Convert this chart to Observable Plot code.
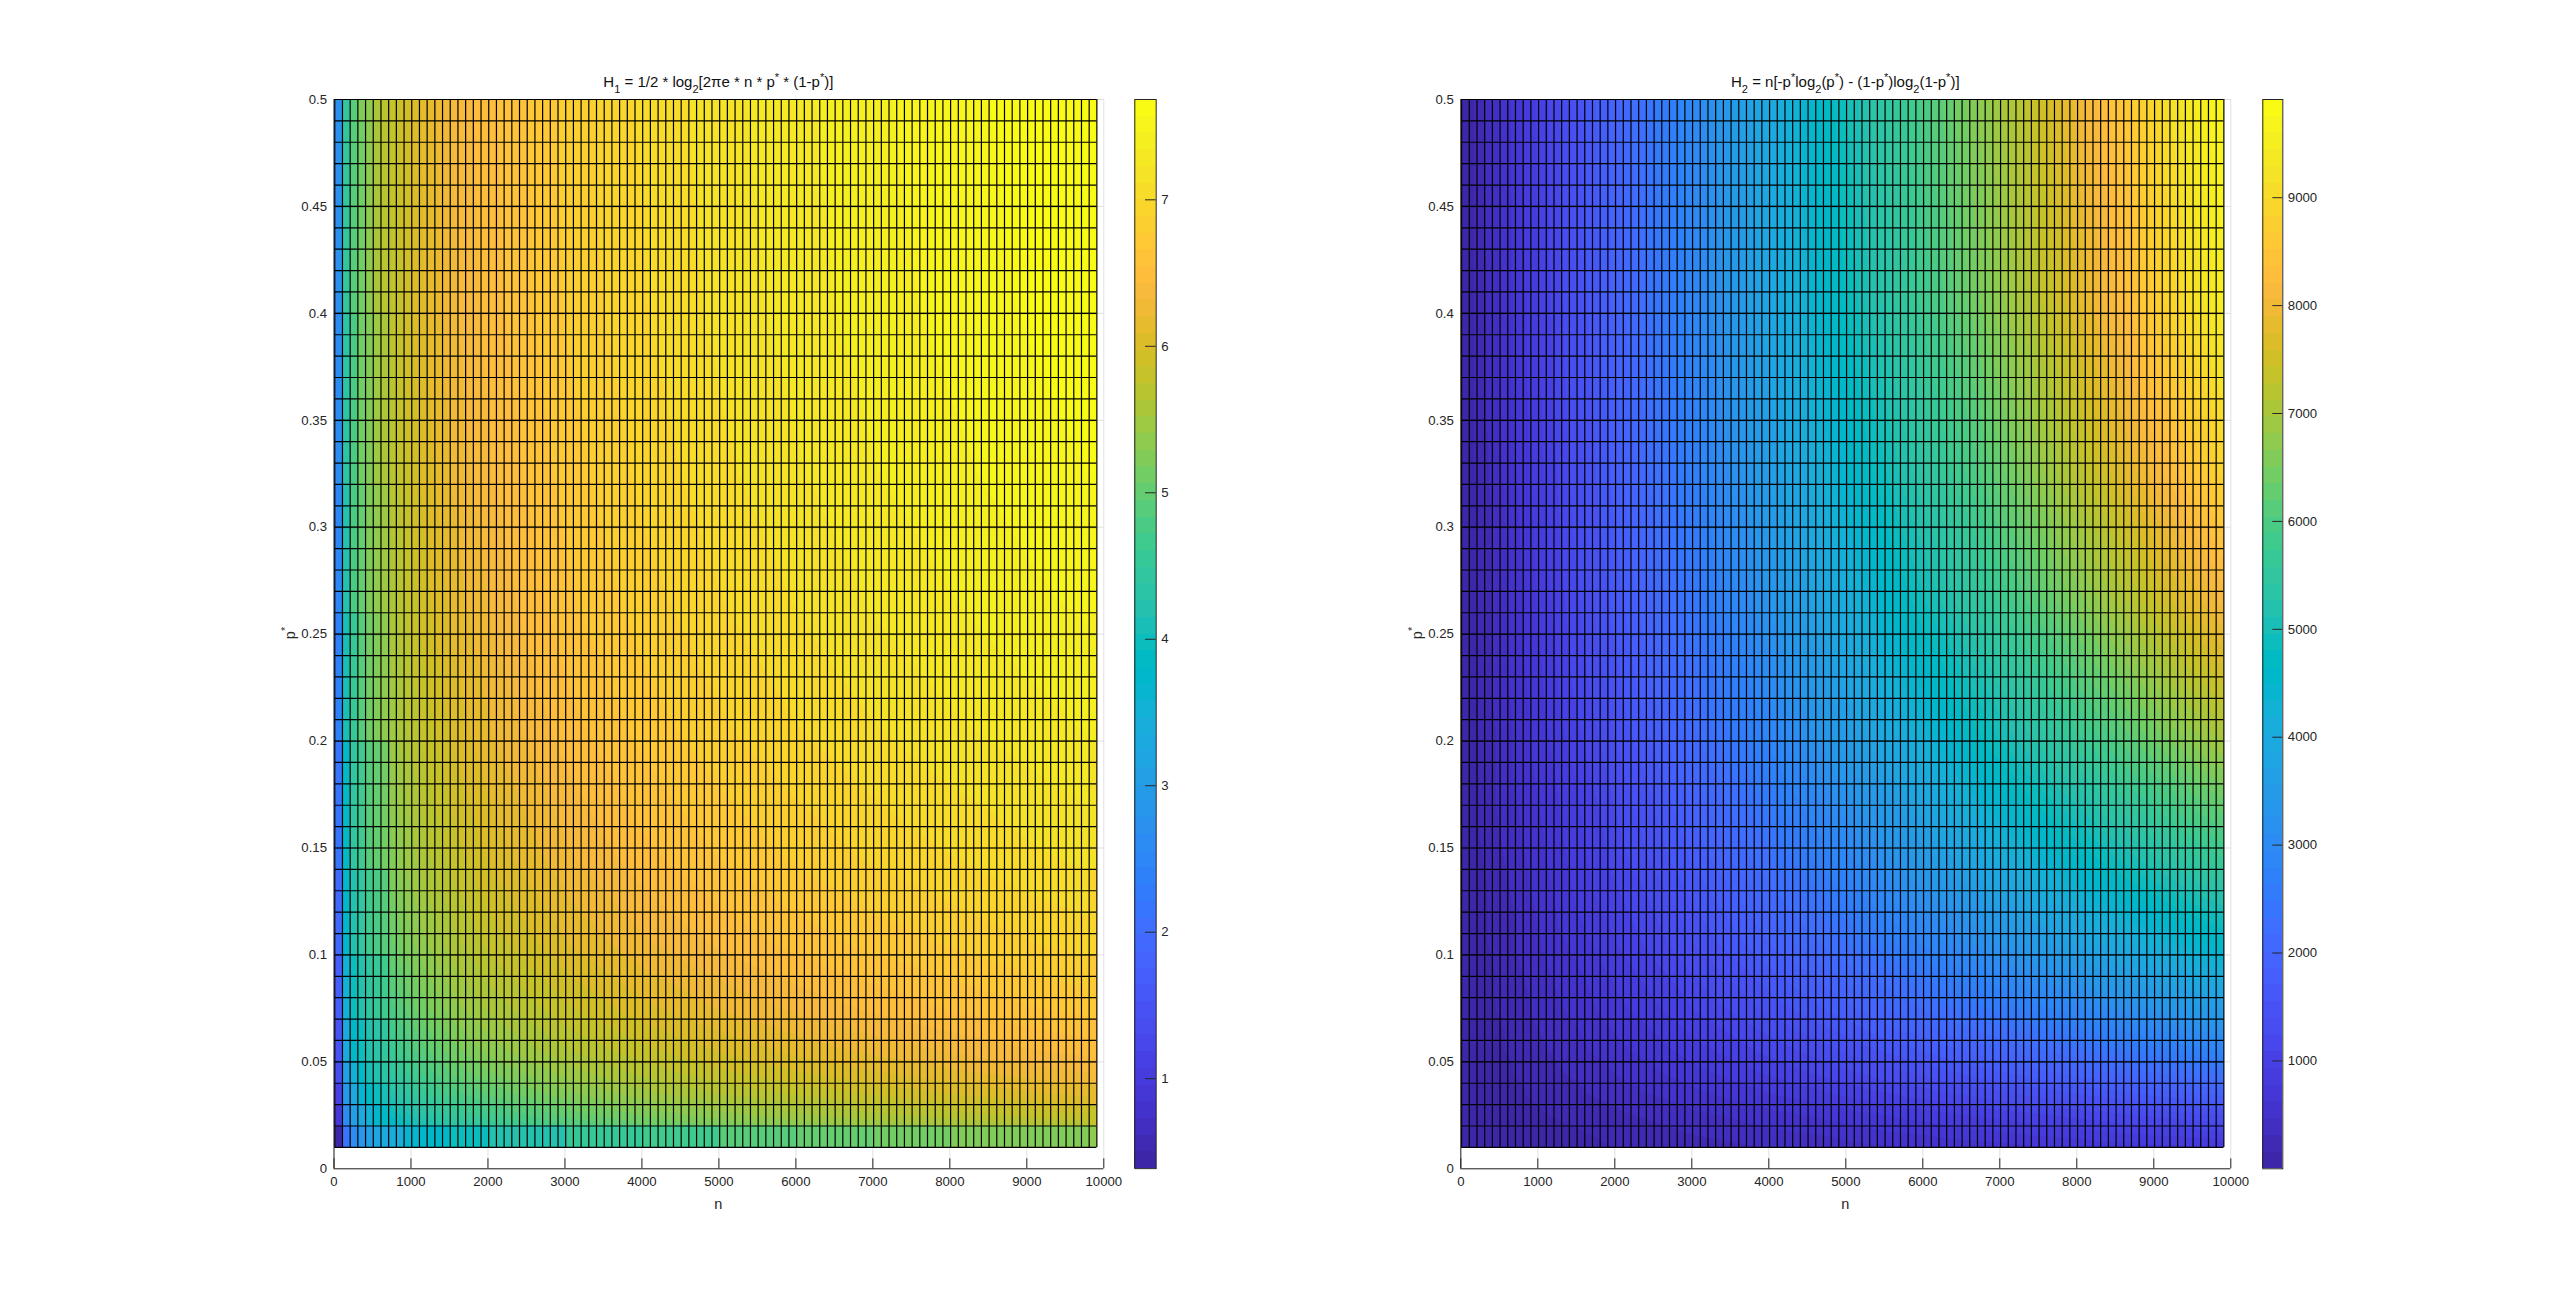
<!DOCTYPE html>
<html>
<head>
<meta charset="utf-8">
<script src="https://cdn.jsdelivr.net/npm/d3@7"></script>
<script src="https://cdn.jsdelivr.net/npm/@observablehq/plot@0.6"></script>
<style>
html,body{margin:0;padding:0;background:#fff;}
#page{position:relative;width:2560px;height:1314px;overflow:hidden;font-family:"Liberation Sans",Arial,sans-serif;color:#262626;}
.t{position:absolute;text-align:center;white-space:nowrap;line-height:16px;}
.title{font-size:15px;color:#111;}
.lab{font-size:14.5px;}
.t sub,.t sup{font-size:11px;line-height:0;}
.t sub{vertical-align:-6px;}
.t sup{vertical-align:6px;}
</style>
</head>
<body>
<div id="page"></div>
<script>
const xTicks=[0,1000,2000,3000,4000,5000,6000,7000,8000,9000,10000];
const yTicks=[0,0.05,0.1,0.15,0.2,0.25,0.3,0.35,0.4,0.45,0.5];
const yHeavyRows=[0.05,0.1,0.15,0.2,0.25,0.3,0.35,0.4,0.45];
const nEdges=[10,110,210,310,410,510,610,710,810,910,1010,1110,1210,1310,1410,1510,1610,1710,1810,1910,2010,2110,2210,2310,2410,2510,2610,2710,2810,2910,3010,3110,3210,3310,3410,3510,3610,3710,3810,3910,4010,4110,4210,4310,4410,4510,4610,4710,4810,4910,5010,5110,5210,5310,5410,5510,5610,5710,5810,5910,6010,6110,6210,6310,6410,6510,6610,6710,6810,6910,7010,7110,7210,7310,7410,7510,7610,7710,7810,7910,8010,8110,8210,8310,8410,8510,8610,8710,8810,8910,9010,9110,9210,9310,9410,9510,9610,9710,9810,9910];
const pEdges=[0.01,0.02,0.03,0.04,0.05,0.06,0.07,0.08,0.09,0.1,0.11,0.12,0.13,0.14,0.15,0.16,0.17,0.18,0.19,0.2,0.21,0.22,0.23,0.24,0.25,0.26,0.27,0.28,0.29,0.3,0.31,0.32,0.33,0.34,0.35,0.36,0.37,0.38,0.39,0.4,0.41,0.42,0.43,0.44,0.45,0.46,0.47,0.48,0.49,0.5];

const pSamples=[0.01,0.02,0.03,0.04,0.05,0.07,0.1,0.14,0.2,0.26,0.32,0.4,0.49];
const h1Columns=[10,110,210,310,410,510,610,710,910,1110,1510,2010,3010,4010,5010,6010,7010,8010,9010,9810];
const h1Values=[
[0.38,2.11,2.58,2.86,3.06,3.22,3.35,3.45,3.63,3.78,4.00,4.20,4.50,4.70,4.86,4.99,5.11,5.20,5.29,5.35],
[0.87,2.60,3.07,3.35,3.55,3.71,3.84,3.95,4.13,4.27,4.49,4.70,4.99,5.20,5.36,5.49,5.60,5.69,5.78,5.84],
[1.16,2.89,3.35,3.63,3.84,3.99,4.12,4.23,4.41,4.55,4.78,4.98,5.27,5.48,5.64,5.77,5.88,5.98,6.07,6.13],
[1.36,3.09,3.55,3.83,4.04,4.19,4.32,4.43,4.61,4.75,4.98,5.18,5.47,5.68,5.84,5.97,6.08,6.18,6.26,6.33],
[1.51,3.24,3.71,3.99,4.19,4.35,4.48,4.59,4.76,4.91,5.13,5.34,5.63,5.83,5.99,6.13,6.24,6.33,6.42,6.48],
[1.74,3.47,3.93,4.21,4.42,4.57,4.70,4.81,4.99,5.13,5.36,5.56,5.85,6.06,6.22,6.35,6.46,6.56,6.65,6.71],
[1.97,3.70,4.17,4.45,4.65,4.81,4.94,5.05,5.23,5.37,5.59,5.80,6.09,6.30,6.46,6.59,6.70,6.79,6.88,6.94],
[2.18,3.91,4.38,4.66,4.86,5.02,5.15,5.26,5.44,5.58,5.80,6.01,6.30,6.51,6.67,6.80,6.91,7.00,7.09,7.15],
[2.39,4.12,4.58,4.86,5.07,5.22,5.35,5.46,5.64,5.78,6.01,6.21,6.50,6.71,6.87,7.00,7.11,7.21,7.29,7.36],
[2.52,4.25,4.72,5.00,5.20,5.36,5.49,5.59,5.77,5.92,6.14,6.34,6.64,6.84,7.00,7.13,7.25,7.34,7.43,7.49],
[2.61,4.34,4.80,5.09,5.29,5.44,5.57,5.68,5.86,6.01,6.23,6.43,6.72,6.93,7.09,7.22,7.34,7.43,7.52,7.58],
[2.68,4.41,4.88,5.16,5.36,5.52,5.65,5.75,5.93,6.08,6.30,6.50,6.80,7.00,7.16,7.29,7.41,7.50,7.59,7.65],
[2.71,4.44,4.90,5.19,5.39,5.54,5.67,5.78,5.96,6.11,6.33,6.53,6.82,7.03,7.19,7.32,7.44,7.53,7.62,7.68]
];
const h2Columns=[10,1010,2010,3010,4010,5010,6010,7010,8010,9010,9810];
const h2Values=[
[0.81,82,162,243,324,405,486,566,647,728,793],
[1.4,143,284,426,567,708,850,991,1133,1274,1387],
[1.9,196,391,585,780,974,1168,1363,1557,1752,1907],
[2.4,245,487,729,972,1214,1456,1698,1941,2183,2377],
[2.9,289,576,862,1148,1435,1721,2008,2294,2580,2810],
[3.7,370,735,1101,1467,1833,2199,2565,2931,3297,3590],
[4.7,474,943,1412,1881,2350,2819,3288,3757,4226,4601],
[5.8,590,1174,1758,2343,2927,3511,4095,4679,5264,5731],
[7.2,729,1451,2173,2895,3617,4339,5060,5782,6504,7082],
[8.3,835,1662,2488,3315,4142,4968,5795,6622,7449,8110],
[9.0,913,1818,2722,3627,4531,5435,6340,7244,8149,8872],
[9.7,981,1952,2923,3894,4865,5836,6807,7778,8749,9526],
[10,1010,2009,3009,4009,5009,6008,7008,8008,9007,9807]
];
const h1Domain=[0.386,7.685];
const h2Domain=[0.81,9910];
const h1BarTicks=[1,2,3,4,5,6,7];
const h2BarTicks=[1000,2000,3000,4000,5000,6000,7000,8000,9000];
const parula=[
[.2422,.1504,.6603],[.2504,.1650,.7076],[.2578,.1818,.7511],[.2647,.1978,.7952],[.2706,.2147,.8364],[.2751,.2342,.8710],[.2783,.2559,.8991],[.2803,.2782,.9221],[.2813,.3006,.9414],[.2810,.3228,.9579],[.2795,.3447,.9717],[.2760,.3667,.9829],[.2699,.3892,.9906],[.2602,.4123,.9952],[.2440,.4358,.9988],[.2206,.4603,.9973],[.1963,.4847,.9892],[.1834,.5074,.9798],[.1786,.5289,.9682],[.1764,.5499,.9520],[.1687,.5703,.9359],[.1540,.5902,.9218],[.1460,.6091,.9079],[.1380,.6276,.8973],[.1248,.6459,.8883],[.1113,.6635,.8763],[.0952,.6798,.8598],[.0689,.6948,.8394],[.0297,.7082,.8163],[.0036,.7203,.7917],[.0067,.7312,.7660],[.0433,.7411,.7394],[.0964,.7500,.7120],[.1408,.7584,.6842],[.1717,.7670,.6554],[.1938,.7758,.6251],[.2161,.7843,.5923],[.2470,.7918,.5567],[.2906,.7973,.5188],[.3406,.8008,.4789],[.3909,.8029,.4354],[.4456,.8024,.3909],[.5044,.7993,.3480],[.5616,.7942,.3045],[.6174,.7876,.2612],[.6720,.7793,.2227],[.7242,.7698,.1910],[.7738,.7598,.1646],[.8203,.7498,.1535],[.8634,.7406,.1596],[.9035,.7330,.1774],[.9393,.7288,.2100],[.9728,.7298,.2394],[.9956,.7434,.2371],[.9970,.7659,.2199],[.9952,.7893,.2028],[.9892,.8136,.1885],[.9786,.8386,.1766],[.9676,.8639,.1643],[.9610,.8890,.1537],[.9597,.9135,.1423],[.9628,.9373,.1265],[.9691,.9606,.1064],[.9769,.9839,.0805]
].map(c=>d3.rgb(c[0]*255,c[1]*255,c[2]*255).formatHex());

const INK="#262626";
const page=document.getElementById("page");
const colorScale=domain=>({type:"linear",domain,clamp:true,
  interpolate:t=>parula[Math.max(0,Math.min(63,Math.floor(t*64)))]});

function blocks(columns,values){
  const out=[];
  const lastN=columns[columns.length-1], lastP=pSamples[pSamples.length-1];
  pSamples.forEach((p,j)=>columns.forEach((n,i)=>out.push({
    n,p,value:values[j][i],
    n2:i+1<columns.length?columns[i+1]:n+100,
    p2:j+1<pSamples.length?pSamples[j+1]:p+0.01,
    // raster anchors: cell centres, except the outermost samples, which sit on the grid's edge
    ax:i===0?n:(n===lastN?n+100:n+50),
    ay:j===0?p:(p===lastP?p+0.01:p+0.005)
  })));
  return out;
}

function mainPlot({left,x0,x1,columns,values,domain,flatSteps}){
  const data=blocks(columns,values);
  const w=x1-left+40;
  // narrow single-cell columns, and the bottom row, keep the reference's flat steps
  const flat=flatSteps?data.filter(d=>d.n2-d.n===100||d.p===0.01):[];
  const plot=Plot.plot({
    width:w,height:1314,
    marginLeft:x0-left,marginRight:w-(x1-left),marginTop:99,marginBottom:1314-1168.3,
    x:{domain:[0,10000]},y:{domain:[0,0.5]},
    color:colorScale(domain),
    style:{position:"absolute",left:left+"px",top:"0",background:"transparent",fontFamily:"Liberation Sans",fontSize:"13.2px",overflow:"visible"},
    marks:[
      Plot.ruleX(xTicks,{stroke:INK,strokeOpacity:0.15}),
      Plot.ruleY(yTicks,{stroke:INK,strokeOpacity:0.15}),
      Plot.raster(data,{x:"ax",y:"ay",fill:"value",interpolate:"barycentric",x1:10,x2:9910,y1:0.01,y2:0.5,pixelSize:1}),
      Plot.rect(flat,{x1:"n",x2:"n2",y1:"p",y2:"p2",fill:"value"}),
      Plot.ruleX(nEdges,{y1:0.01,y2:0.5,stroke:"#000",strokeWidth:1.2}),
      Plot.ruleY(pEdges,{x1:10,x2:9910,stroke:"#000",strokeWidth:1.2}),
      Plot.ruleY(yHeavyRows,{x1:10,x2:9910,stroke:"#000",strokeOpacity:0.2,strokeWidth:2}),
      Plot.ruleX([0],{stroke:INK}),
      Plot.ruleY([0],{stroke:INK}),
      Plot.ruleX(xTicks,{y1:0,y2:0.00468,stroke:INK}),
      Plot.axisX({anchor:"bottom",ticks:xTicks,tickSize:0,tickPadding:8,tickFormat:d=>String(d),label:null,color:INK}),
      Plot.axisY({anchor:"left",ticks:yTicks,tickSize:0,tickPadding:7,tickFormat:d=>String(d),label:null,color:INK})
    ]
  });
  page.appendChild(plot);
}

function colorBar({left,x0,x1,domain,ticks,marginRight}){
  const bands=parula.map((c,i)=>({c,i}));
  const span=(domain[1]-domain[0])/64;
  const w=x1-left+marginRight;
  const plot=Plot.plot({
    width:w,height:1314,
    marginLeft:x0-left,marginRight,marginTop:99,marginBottom:1314-1168.3,
    x:{domain:[0,1],axis:null},y:{domain},
    style:{position:"absolute",left:left+"px",top:"0",background:"transparent",fontFamily:"Liberation Sans",fontSize:"13.2px"},
    marks:[
      Plot.rect(bands,{x1:0,x2:1,y1:d=>domain[0]+d.i*span,y2:d=>domain[0]+(d.i+1)*span,fill:"c",shapeRendering:"crispEdges"}),
      Plot.frame({stroke:INK}),
      Plot.ruleY(ticks,{x1:0.5,x2:1,stroke:INK}),
      Plot.axisY({anchor:"right",ticks,tickSize:0,tickPadding:5,tickFormat:d=>String(d),label:null,color:INK})
    ]
  });
  page.appendChild(plot);
}

function html(cls,css,content){
  const el=document.createElement("div");
  el.className="t "+cls;
  el.style.cssText=css;
  el.innerHTML=content;
  page.appendChild(el);
}

mainPlot({left:270,x0:333.5,x1:1103.3,columns:h1Columns,values:h1Values,domain:h1Domain,flatSteps:true});
colorBar({left:1124,x0:1134.3,x1:1155.7,domain:h1Domain,ticks:h1BarTicks,marginRight:50});
mainPlot({left:1400,x0:1460.3,x1:2230.3,columns:h2Columns,values:h2Values,domain:h2Domain,flatSteps:false});
colorBar({left:2250,x0:2262.3,x1:2282.3,domain:h2Domain,ticks:h2BarTicks,marginRight:60});

html("title","left:333.5px;width:769.8px;top:74px;",'H<sub>1</sub> = 1/2 * log<sub>2</sub>[2πe * n * p<sup>*</sup> * (1-p<sup>*</sup>)]');
html("title","left:1460.3px;width:770px;top:74px;",'H<sub>2</sub> = n[-p<sup>*</sup>log<sub>2</sub>(p<sup>*</sup>) - (1-p<sup>*</sup>)log<sub>2</sub>(1-p<sup>*</sup>)]');
html("lab","left:333.5px;width:769.8px;top:1196px;","n");
html("lab","left:1460.3px;width:770px;top:1196px;","n");
html("lab","left:270px;width:40px;top:625px;transform:rotate(-90deg);","p<sup>*</sup>");
html("lab","left:1397px;width:40px;top:625px;transform:rotate(-90deg);","p<sup>*</sup>");
</script>
</body>
</html>
